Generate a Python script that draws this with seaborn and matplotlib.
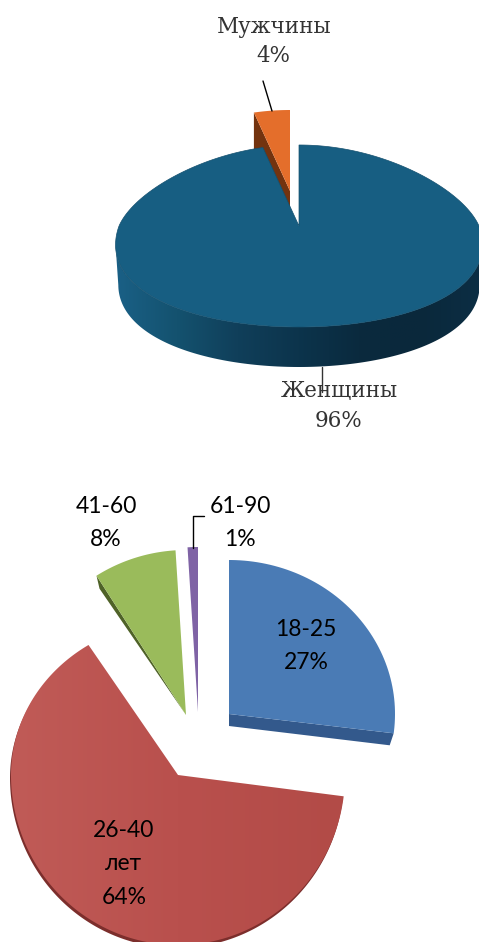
import numpy as np
import matplotlib
matplotlib.use("Agg")
import matplotlib.pyplot as plt
import seaborn as sns
from matplotlib.patches import Polygon
from matplotlib.transforms import Affine2D

# ---------- Data ----------
GENDER_LABELS = ["Женщины", "Мужчины"]
GENDER_VALUES = [96, 4]
AGE_LABELS = ["18-25", "26-40\nлет", "41-60", "61-90"]
AGE_VALUES = [27, 64, 8, 1]

# ---------- Style ----------
SLAB = "DejaVu Serif"
SANS = "Lato"
SLAB_SIZE = 15.5
SANS_SIZE = 16.5
TEXT_DARK = "#333333"

sns.set_theme(style="white")
fig = plt.figure(figsize=(4.79, 9.42), dpi=100)
ax = fig.add_axes([0, 0, 1, 1])


def unit_slice(values, i):
    # pie does the angles, one call per slice because every slice sits on its own centre
    start = 90 - 3.6 * sum(values[:i]) * 100 / sum(values)
    wedge = ax.pie([values[i], sum(values) - values[i]], startangle=start, counterclock=False,
                   colors=["#000000", "none"])[0][0]
    # scale up before flattening, otherwise the curve comes back as a few straight pieces
    pts = wedge.get_path().to_polygons(Affine2D().scale(2000), closed_only=False)[0] / 2000
    ax.patches[-1].remove()
    ax.patches[-1].remove()
    return pts


def project(pts, cx, cy, rx, ry_back, ry_front, k=0.0):
    x, y = pts[:, 0], pts[:, 1]
    px = cx + rx * x * (1 - k * y)
    py = cy - np.where(y > 0, ry_back, ry_front) * y
    return np.column_stack([px, py])


def fill(pts, colour, z, edge="none"):
    patch = Polygon(pts, closed=True, facecolor=colour, edgecolor=edge, lw=0.5, zorder=z)
    ax.add_patch(patch)
    return patch


def gradient(patch, stops, x0, x1, y0, y1, z):
    cmap = sns.blend_palette(stops, as_cmap=True)
    img = ax.imshow(np.linspace(0, 1, 256)[None, :], cmap=cmap, extent=(x0, x1, y1, y0),
                    aspect="auto", zorder=z)
    img.set_clip_path(patch)


def label(x, y, text, family, size, colour):
    ax.text(x, y, text, family=family, size=size, color=colour, ha="center", va="center",
            linespacing=1.75, zorder=7)


# ---------- Top pie ----------
TOP = dict(cx=299, cy=226, rx=180, ry_back=81, ry_front=101, k=0.2)
DEPTH = 40

# man slice, pulled out
man = project(unit_slice(GENDER_VALUES, 1), 290, 191, 180, 81, 101, 0.2)
corner = man[np.argmin(man[:, 0])]
apex = np.array([290.0, 191.0])
fill([corner, apex, apex + [0, DEPTH], corner + [0, DEPTH]], "#73330f", 2)
fill(man, "#e46e2b", 3)

# woman slice, side wall first
theta = np.radians(np.linspace(180, 360, 200))
rim = project(np.column_stack([np.cos(theta), np.sin(theta)]), **TOP)
rim = rim[np.argmin(rim[:, 0]):np.argmax(rim[:, 0]) + 1]
lower = rim + [0, DEPTH]
lower[:, 0] = TOP["cx"] + (lower[:, 0] - TOP["cx"]) * 0.985
wall = fill(np.vstack([rim, lower[::-1]]), "none", 4)
gradient(wall, ["#1a6086", "#14526f", "#103f5a", "#0c344c", "#0a2a3e", "#0a283b", "#0c2e44"],
         115, 482, 226, 370, 4)
woman = project(unit_slice(GENDER_VALUES, 0), **TOP)
fill(woman, "#175e82", 5, edge="#14506f")

ax.plot([263, 272], [81, 111], color="black", lw=1, zorder=6)
ax.plot([322, 322], [367, 392], color="#333333", lw=1, zorder=6)

label(274, 27, GENDER_LABELS[1], SLAB, SLAB_SIZE, TEXT_DARK)
label(273, 56, f"{GENDER_VALUES[1]}%", SLAB, SLAB_SIZE, TEXT_DARK)
label(339, 391, GENDER_LABELS[0], SLAB, SLAB_SIZE, TEXT_DARK)
label(339, 421, f"{GENDER_VALUES[0]}%", SLAB, SLAB_SIZE, TEXT_DARK)

# ---------- Bottom pie ----------
# blue
blue = project(unit_slice(AGE_VALUES, 0), 229, 714, 166, 154, 154)
blue_end = blue[np.argmax(blue[:, 1])]
blue_apex = np.array([229.0, 714.0])
fill([blue_apex, blue_end, blue_end + [-4, 12], blue_apex + [0, 12]], "#33598c", 2)
fill(blue, "#4a7bb5", 3)

# red
red = project(unit_slice(AGE_VALUES, 1), 178, 775, 167, 154, 170)
fill(red + [-1, 3], "#7c2e2c", 2)
red_patch = fill(red, "none", 3)
gradient(red_patch, ["#c05b57", "#b9504d", "#b24b47"], 11, 345, 640, 945, 3)

# green
green = project(unit_slice(AGE_VALUES, 2), 186, 715, 167, 165, 165)
green_corner = green[np.argmin(green[:, 0])]
green_apex = np.array([186.0, 715.0])
fill([green_corner, green_apex, green_corner + [3, 13]], "#4f6228", 2)
fill(green, "#9abb5b", 3)

# purple
purple = project(unit_slice(AGE_VALUES, 3), 198, 712, 167, 165, 165)
fill(purple, "#7f63a5", 3)
ax.plot([193, 193, 204], [548, 516, 516], color="black", lw=1, zorder=6)

label(306, 646, f"{AGE_LABELS[0]}\n{AGE_VALUES[0]}%", SANS, SANS_SIZE, "black")
label(124, 864, f"{AGE_LABELS[1]}\n{AGE_VALUES[1]}%", SANS, SANS_SIZE, "black")
label(106, 523, f"{AGE_LABELS[2]}\n{AGE_VALUES[2]}%", SANS, SANS_SIZE, "black")
label(240, 523, f"{AGE_LABELS[3]}\n{AGE_VALUES[3]}%", SANS, SANS_SIZE, "black")

ax.set_aspect("auto")
ax.set_xlim(0, 479)
ax.set_ylim(942, 0)
ax.axis("off")

fig.savefig("out.png", dpi=100)
